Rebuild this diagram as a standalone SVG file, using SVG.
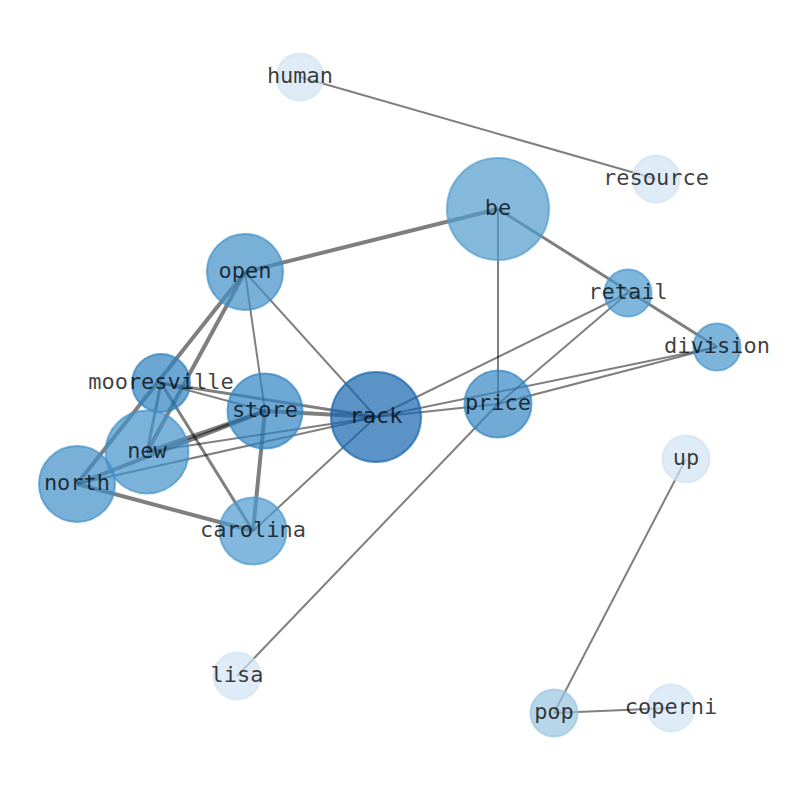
<svg xmlns="http://www.w3.org/2000/svg" width="794" height="790" viewBox="0 0 794 790">
<style>
.e{stroke:#000;stroke-opacity:0.5;fill:none;stroke-linecap:butt}
.w2{stroke-width:2}
.w3{stroke-width:3}
.w4{stroke-width:4}
.n{fill-opacity:0.7;stroke-opacity:0.7;stroke-width:2}
.t{font-family:"DejaVu Sans Mono","Liberation Mono",monospace;font-size:22px;fill:#000;fill-opacity:0.75;text-anchor:middle}
</style>
<rect width="794" height="790" fill="#fff"/>
<g id="connectors">
<line class="e w2" x1="300" y1="77" x2="656" y2="179"/>
<line class="e w4" x1="498" y1="209" x2="245" y2="272"/>
<line class="e w2" x1="498" y1="209" x2="498" y2="404"/>
<line class="e w3" x1="498" y1="209" x2="717" y2="347"/>
<line class="e w4" x1="245" y1="272" x2="77" y2="484"/>
<line class="e w4" x1="245" y1="272" x2="147" y2="452"/>
<line class="e w2" x1="245" y1="272" x2="265" y2="411"/>
<line class="e w2" x1="245" y1="272" x2="376" y2="417"/>
<line class="e w3" x1="161" y1="383" x2="147" y2="452"/>
<line class="e w2" x1="161" y1="383" x2="265" y2="411"/>
<line class="e w3" x1="161" y1="383" x2="376" y2="417"/>
<line class="e w3" x1="161" y1="383" x2="253" y2="531"/>
<line class="e w4" x1="265" y1="411" x2="376" y2="417"/>
<line class="e w4" x1="265" y1="411" x2="147" y2="452"/>
<line class="e w4" x1="265" y1="411" x2="77" y2="484"/>
<line class="e w4" x1="265" y1="411" x2="253" y2="531"/>
<line class="e w2" x1="147" y1="452" x2="376" y2="417"/>
<line class="e w2" x1="77" y1="484" x2="376" y2="417"/>
<line class="e w4" x1="77" y1="484" x2="253" y2="531"/>
<line class="e w2" x1="376" y1="417" x2="253" y2="531"/>
<line class="e w2" x1="376" y1="417" x2="628" y2="293"/>
<line class="e w2" x1="376" y1="417" x2="717" y2="347"/>
<line class="e w2" x1="376" y1="417" x2="498" y2="404"/>
<line class="e w2" x1="498" y1="404" x2="717" y2="347"/>
<line class="e w2" x1="498" y1="404" x2="628" y2="293"/>
<line class="e w2" x1="498" y1="404" x2="237" y2="676"/>
<line class="e w2" x1="686" y1="459" x2="554" y2="713"/>
<line class="e w2" x1="554" y1="713" x2="671" y2="708"/>
</g>
<g id="node-human"><circle class="n" cx="300" cy="77" r="23.5" fill="#d2e2f2" stroke="#d2e2f2"/><text class="t" x="300" y="83">human</text></g>
<g id="node-resource"><circle class="n" cx="656" cy="179" r="23.5" fill="#d2e2f2" stroke="#d2e2f2"/><text class="t" x="656" y="185">resource</text></g>
<g id="node-be"><circle class="n" cx="498" cy="209" r="51" fill="#519bcd" stroke="#519bcd"/><text class="t" x="498" y="215">be</text></g>
<g id="node-open"><circle class="n" cx="245" cy="272" r="38" fill="#3e8ec7" stroke="#3e8ec7"/><text class="t" x="245" y="278">open</text></g>
<g id="node-retail"><circle class="n" cx="628" cy="293" r="23.5" fill="#4997cc" stroke="#4997cc"/><text class="t" x="628" y="299">retail</text></g>
<g id="node-division"><circle class="n" cx="717" cy="347" r="23.5" fill="#4694cb" stroke="#4694cb"/><text class="t" x="717" y="353">division</text></g>
<g id="node-mooresville"><circle class="n" cx="161" cy="383" r="29" fill="#2d80bf" stroke="#2d80bf"/><text class="t" x="161" y="389">mooresville</text></g>
<g id="node-store"><circle class="n" cx="265" cy="411" r="37.5" fill="#3083c2" stroke="#3083c2"/><text class="t" x="265" y="417">store</text></g>
<g id="node-rack"><circle class="n" cx="376" cy="417" r="45" fill="#1565af" stroke="#1565af"/><text class="t" x="376" y="423">rack</text></g>
<g id="node-price"><circle class="n" cx="498" cy="404" r="33.5" fill="#3386c3" stroke="#3386c3"/><text class="t" x="498" y="410">price</text></g>
<g id="node-new"><circle class="n" cx="147" cy="452" r="41.5" fill="#4191c9" stroke="#4191c9"/><text class="t" x="147" y="458">new</text></g>
<g id="node-north"><circle class="n" cx="77" cy="484" r="38" fill="#3e8ec7" stroke="#3e8ec7"/><text class="t" x="77" y="490">north</text></g>
<g id="node-carolina"><circle class="n" cx="253" cy="531" r="33.5" fill="#4d9ace" stroke="#4d9ace"/><text class="t" x="253" y="537">carolina</text></g>
<g id="node-up"><circle class="n" cx="686" cy="459" r="23.5" fill="#d2e2f2" stroke="#d2e2f2"/><text class="t" x="686" y="465">up</text></g>
<g id="node-lisa"><circle class="n" cx="237" cy="676" r="23.5" fill="#d2e2f2" stroke="#d2e2f2"/><text class="t" x="237" y="682">lisa</text></g>
<g id="node-pop"><circle class="n" cx="554" cy="713" r="23.5" fill="#9ac4e1" stroke="#9ac4e1"/><text class="t" x="554" y="719">pop</text></g>
<g id="node-coperni"><circle class="n" cx="671" cy="708" r="23.5" fill="#d2e2f2" stroke="#d2e2f2"/><text class="t" x="671" y="714">coperni</text></g>
</svg>
